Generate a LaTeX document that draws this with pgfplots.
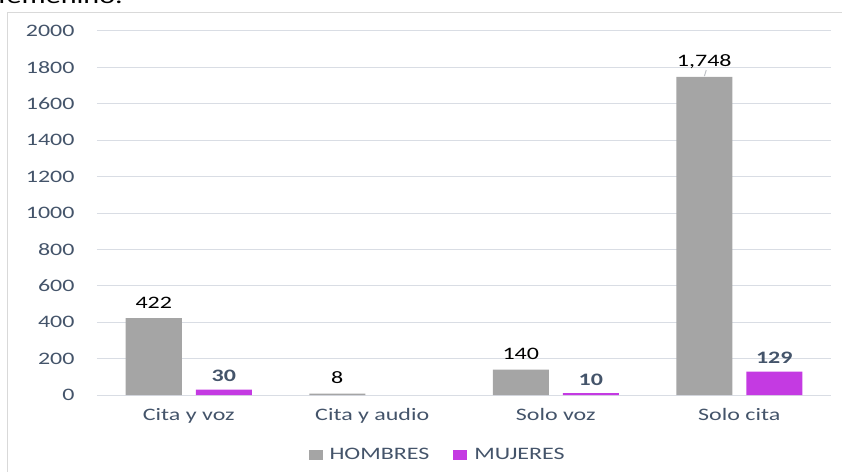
\documentclass[border=0pt]{standalone}
\usepackage{fontspec}
\setmainfont{Carlito}[FakeStretch=1.37]
\usepackage{pgfplots}
\pgfplotsset{compat=1.18}
\definecolor{hombres}{HTML}{A5A5A5}
\definecolor{mujeres}{HTML}{C43AE2}
\definecolor{slate}{HTML}{44546A}
\definecolor{gridc}{HTML}{D9DDE4}
\definecolor{framec}{HTML}{D9D9D9}
\newcommand{\lbl}{\fontsize{17.5}{20}\selectfont}

\begin{document}
\begin{tikzpicture}
\useasboundingbox (-97pt,-76pt) rectangle (745pt,395pt);
\clip (-97pt,-76pt) rectangle (745pt,395pt);
% chart frame, cut by the page edge
\draw[framec, line width=1pt] (-89pt,382pt) rectangle (900pt,-200pt);
\node[anchor=base west, inner sep=0, font=\fontsize{22}{26}\selectfont] at (-99pt,391pt) {femenino.};
\begin{axis}[
  at={(0pt,0pt)}, anchor=south west,
  scale only axis, width=734pt, height=364pt,
  xmin=-0.5, xmax=3.5, ymin=0, ymax=2000,
  ybar=14pt, bar width=56pt,
  axis line style={draw=none},
  major tick length=0pt,
  tick style={draw=none},
  xtick={0,1,2,3},
  xticklabels={Cita y voz, Cita y audio, Solo voz, Solo cita},
  ytick={0,200,...,2000},
  ymajorgrids, grid style={gridc, line width=1pt},
  /pgf/number format/assume math mode=true,
  yticklabel style={font=\lbl, text=slate, xshift=-19pt, /pgf/number format/1000 sep={}},
  xticklabel style={font=\lbl, text=slate, yshift=-10pt},
  legend style={at={(0.464,-0.165)}, anchor=center, draw=none, fill=none,
    font=\lbl, text=slate, legend columns=2,
    /tikz/every even column/.append style={column sep=22pt}},
  legend image code/.code={\fill[#1] (0pt,-5pt) rectangle (14pt,5pt); \path (19pt,0pt);},
]
\addplot[fill=hombres, draw=none, nodes near coords,
  every node near coord/.append style={font=\lbl, text=black, anchor=base, inner sep=0pt, yshift=10pt, /pgf/number format/1000 sep={,}}]
  coordinates {(0,422) (1,8) (2,140) (3,1748)};
\addlegendentry{HOMBRES}
\addplot[fill=mujeres, draw=none, nodes near coords,
  every node near coord/.append style={font=\lbl\bfseries, text=slate, anchor=base, inner sep=0pt, yshift=8pt}]
  coordinates {(0,30) (2,10) (3,129)};
\addlegendentry{MUJERES}
% leader line of the 1,748 label
\draw[gridc!70!gray, line width=1pt] (axis cs:2.81,1752) -- (axis cs:2.82,1785);
\end{axis}
\end{tikzpicture}
\end{document}
